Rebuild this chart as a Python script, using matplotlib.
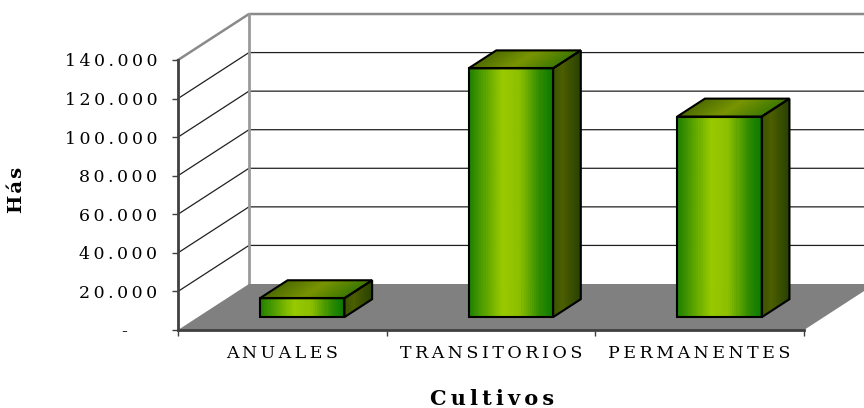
import numpy as np
import matplotlib.pyplot as plt
from matplotlib.patches import Polygon
from matplotlib.colors import LinearSegmentedColormap
from matplotlib.ticker import FixedLocator, FuncFormatter

# datos
categorias = ['ANUALES', 'TRANSITORIOS', 'PERMANENTES']
hectareas = [9800, 129000, 104000]
ticks_y = [0, 20000, 40000, 60000, 80000, 100000, 120000, 140000]

plt.rcParams['font.family'] = ['DejaVu Serif']

# profundidad del efecto 3D (en unidades de datos)
DX = 0.34
DY = 23850
f1, f2 = 0.28, 0.67   # posicion de la barra dentro de la profundidad
ancho = 0.405

SEP = '\u2009'


def espaciar(txt, sep=SEP):
    return sep.join(txt)


cm_frente = LinearSegmentedColormap.from_list('frente', [
    (0.0, (0.12, 0.50, 0.0)), (0.40, (0.60, 0.79, 0.0)),
    (0.60, (0.55, 0.75, 0.0)), (0.85, (0.18, 0.54, 0.0)),
    (1.0, (0.03, 0.48, 0.0))])
cm_tapa = LinearSegmentedColormap.from_list('tapa', [
    (0.0, (0.30, 0.42, 0.0)), (0.5, (0.47, 0.58, 0.0)),
    (1.0, (0.24, 0.47, 0.0))])
cm_lado = LinearSegmentedColormap.from_list('lado', [
    (0.0, (0.22, 0.33, 0.0)), (0.35, (0.30, 0.37, 0.0)),
    (1.0, (0.16, 0.26, 0.0))])

fig = plt.figure(figsize=(8.64, 4.08), dpi=100)
ax = fig.add_axes([178 / 864, 78 / 408, 626 / 864, 270 / 408])
ax.set_xlim(0, 3)
ax.set_ylim(0, ticks_y[-1])
ax.patch.set_visible(False)

xder = len(categorias) + DX
ymax = ticks_y[-1]

# pared izquierda y lineas de division
for v in ticks_y[1:-1]:
    ax.plot([0, DX, xder], [v, v + DY, v + DY], color='#202020', lw=0.9,
            clip_on=False, zorder=1)
ax.plot([0, DX, xder], [ymax, ymax + DY, ymax + DY], color='#8a8a8a', lw=1.8,
        clip_on=False, zorder=1)
ax.plot([DX, DX], [DY, ymax + DY], color='#9a9a9a', lw=2, clip_on=False, zorder=1)

# piso
ax.add_patch(Polygon([(0, 0), (3, 0), (3 + DX, DY), (DX, DY)], closed=True,
                     facecolor='#808080', edgecolor='none', clip_on=False, zorder=2))


def tiras(esquinas_f, cmap, n=40):
    # esquinas_f(t0, t1) devuelve el poligono de la tira entre t0 y t1
    for k in range(n):
        pts = esquinas_f(k / n, (k + 1) / n)
        c = cmap((k + 0.5) / n)
        ax.add_patch(Polygon(pts, closed=True, facecolor=c, edgecolor=c, lw=0.6,
                             clip_on=False, zorder=3))


for i, v in enumerate(hectareas):
    x0 = i + 0.5 - ancho / 2
    ox1, oy1 = f1 * DX, f1 * DY
    ox2, oy2 = f2 * DX, f2 * DY
    xl, xr = x0 + ox1, x0 + ancho + ox1

    tiras(lambda a, b: [(xl + ancho * a, oy1), (xl + ancho * b, oy1),
                        (xl + ancho * b, v + oy1), (xl + ancho * a, v + oy1)], cm_frente)
    tiras(lambda a, b: [(xl + ancho * a, v + oy1), (xl + ancho * b, v + oy1),
                        (x0 + ox2 + ancho * b, v + oy2), (x0 + ox2 + ancho * a, v + oy2)], cm_tapa)
    dxp, dyp = ox2 - ox1, oy2 - oy1
    tiras(lambda a, b: [(xr + dxp * a, oy1 + dyp * a), (xr + dxp * b, oy1 + dyp * b),
                        (xr + dxp * b, v + oy1 + dyp * b), (xr + dxp * a, v + oy1 + dyp * a)], cm_lado)

    frente = [(xl, oy1), (xr, oy1), (xr, v + oy1), (xl, v + oy1)]
    tapa = [(xl, v + oy1), (xr, v + oy1), (xr + dxp, v + oy2), (xl + dxp, v + oy2)]
    lado = [(xr, oy1), (xr + dxp, oy2), (xr + dxp, v + oy2), (xr, v + oy1)]
    for pts in (frente, tapa, lado):
        ax.add_patch(Polygon(pts, closed=True, fill=False, edgecolor='black',
                             lw=1.5, clip_on=False, zorder=4, joinstyle='miter'))

# ejes frontales
for lado_eje in ('top', 'right'):
    ax.spines[lado_eje].set_visible(False)
for lado_eje in ('left', 'bottom'):
    ax.spines[lado_eje].set_color('#404040')
    ax.spines[lado_eje].set_linewidth(2)
    ax.spines[lado_eje].set_zorder(5)


def fmt(v, pos):
    if v == 0:
        return '-\u2003\u2002\u2009'
    return espaciar(f'{int(v):,}'.replace(',', '.'))


ax.yaxis.set_major_locator(FixedLocator(ticks_y))
ax.yaxis.set_major_formatter(FuncFormatter(fmt))
ax.tick_params(axis='y', length=4.5, width=1, color='#404040', pad=10.5,
               labelsize=12.5, labelcolor='black')

ax.set_xticks([i + 0.5 for i in range(len(categorias))])
ax.set_xticklabels([espaciar(c) for c in categorias])
ax.set_xticks(range(len(categorias) + 1), minor=True)
ax.tick_params(axis='x', which='major', length=0, pad=11, labelsize=12.5)
ax.tick_params(axis='x', which='minor', length=4, width=1, color='#404040')

fig.text(17 / 864, 1 - 190 / 408, espaciar('Hás', '\u200a'), rotation=90, ha='center',
         va='center', fontsize=14, fontweight='bold')
fig.text(492 / 864, 1 - 399 / 408, espaciar('Cultivos', '\u2009'), ha='center',
         va='center', fontsize=15, fontweight='bold')

fig.savefig('out.png', dpi=100)
